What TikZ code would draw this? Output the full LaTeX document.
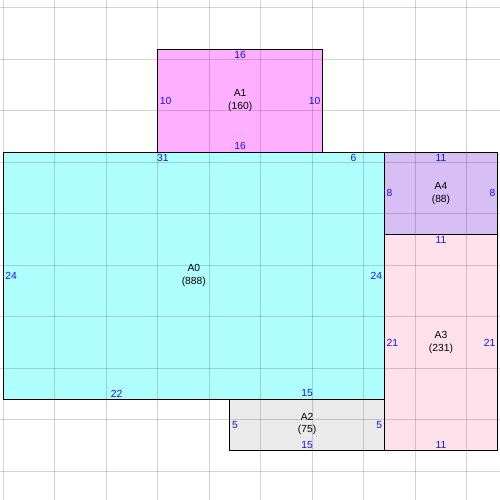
\documentclass[tikz,border=0pt]{standalone}
\usepackage{fontspec}
\setmainfont{Liberation Sans}

\definecolor{areaA0}{RGB}{175,255,255}
\definecolor{areaA1}{RGB}{255,175,255}
\definecolor{areaA2}{RGB}{235,235,235}
\definecolor{areaA3}{RGB}{255,225,235}
\definecolor{areaA4}{RGB}{215,190,245}
\definecolor{lblblue}{RGB}{20,20,235}

\tikzset{
  edgelbl/.style={text=lblblue, inner sep=2pt, font=\fontsize{10.3}{12}\selectfont},
  arealbl/.style={text=black, align=center, inner sep=0pt, font=\fontsize{10.3}{12.5}\selectfont},
  border/.style={black, line width=1pt}
}

\begin{document}
\begin{tikzpicture}[x=10.3pt,y=10.3pt]

\useasboundingbox (-0.32,-9.78) rectangle (48.22,38.77);
\fill[white] (-0.32,-9.78) rectangle (48.22,38.77);

% FILLS
  \fill[areaA0] (0, 0) rectangle (37, 24);
  \fill[areaA1] (15,24) rectangle (31, 34);
  \fill[areaA4] (37,16) rectangle (48, 24);
  \fill[areaA3] (37,-5) rectangle (48, 16);
  \fill[areaA2] (22,-5) rectangle (37,  0);

% GRID
  \foreach \x in {0,5,...,45}
      \draw[black, opacity=0.17, line width=0.9pt] (\x,-10) -- (\x,39);
  \foreach \y in {-7,-2,...,38}
      \draw[black, opacity=0.17, line width=0.9pt] (-1,\y) -- (49,\y);

% BORDERS
  \draw[border] (0, 0) rectangle (37, 24);
  \draw[border] (15,24) rectangle (31, 34);
  \draw[border] (37,16) rectangle (48, 24);
  \draw[border] (37,-5) rectangle (48, 16);
  \draw[border] (22,-5) rectangle (37,  0);

% A0 region
  \node[arealbl] (a0) at (18.5,12) {A0\\(888)};
  \node[edgelbl, below] (a0top)   at (15.5,24) {31};
  \node[edgelbl, below] (a0topr)  at (34,  24) {6};
  \node[edgelbl, right] (a0left)  at (0,   12) {24};
  \node[edgelbl, left]  (a0right) at (37,  12) {24};
  \node[edgelbl, above] (a0bot)   at (11,   0) {22};
  \node[edgelbl, above] (a0botr)  at (29.5, 0) {15};

% A1 region
  \node[arealbl] (a1) at (23,29) {A1\\(160)};
  \node[edgelbl, below] (a1top)   at (23,34) {16};
  \node[edgelbl, above] (a1bot)   at (23,24) {16};
  \node[edgelbl, right] (a1left)  at (15,29) {10};
  \node[edgelbl, left]  (a1right) at (31,29) {10};

% A2 region
  \node[arealbl] (a2) at (29.5,-2.4) {A2\\(75)};
  \node[edgelbl, right] (a2left)  at (22,  -2.5) {5};
  \node[edgelbl, left]  (a2right) at (37,  -2.5) {5};
  \node[edgelbl, above] (a2bot)   at (29.5,-5)   {15};

% A3 region
  \node[arealbl] (a3) at (42.5,5.5) {A3\\(231)};
  \node[edgelbl, below] (a3top)   at (42.5,16) {11};
  \node[edgelbl, right] (a3left)  at (37, 5.5) {21};
  \node[edgelbl, left]  (a3right) at (48, 5.5) {21};
  \node[edgelbl, above] (a3bot)   at (42.5,-5) {11};

% A4 region
  \node[arealbl] (a4) at (42.5,20) {A4\\(88)};
  \node[edgelbl, below] (a4top)   at (42.5,24) {11};
  \node[edgelbl, right] (a4left)  at (37,  20) {8};
  \node[edgelbl, left]  (a4right) at (48,  20) {8};

\end{tikzpicture}
\end{document}
